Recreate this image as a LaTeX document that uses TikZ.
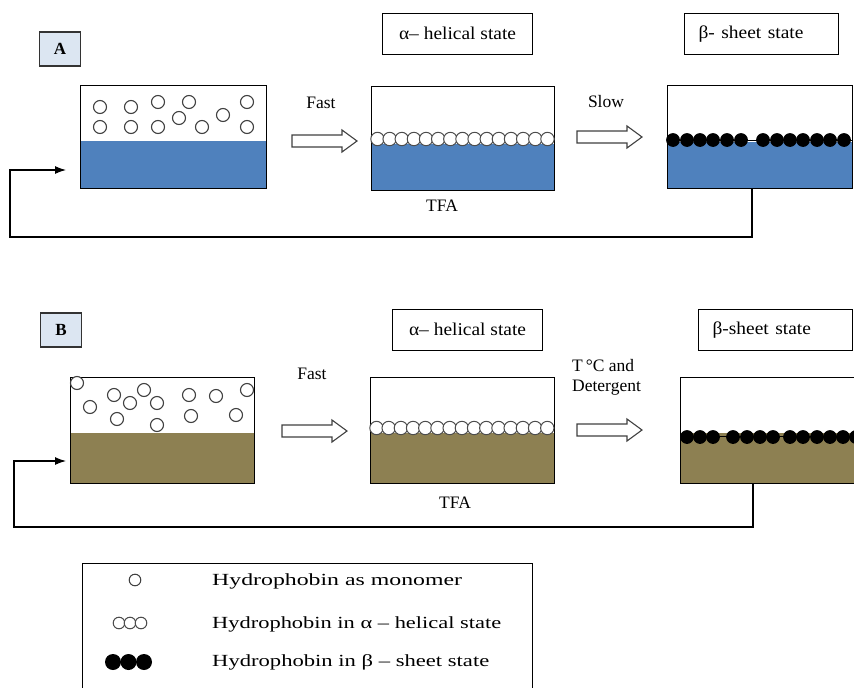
\documentclass[tikz,border=0pt]{standalone}
\usepackage{fontspec}
\usepackage{graphicx}
\setmainfont{Liberation Serif}
\usetikzlibrary{arrows.meta}
\definecolor{waterblue}{HTML}{4F81BD}
\definecolor{tfaolive}{RGB}{141,128,82}
\definecolor{lblfill}{HTML}{DCE6F2}
\definecolor{edgegray}{HTML}{333333}
\tikzset{
  vessel/.style={draw=black, line width=1.2pt, anchor=north west, inner sep=0pt},
  tagbox/.style={draw=edgegray, fill=lblfill, line width=1.3pt, minimum width=41pt, minimum height=34pt, inner sep=0pt, font=\fontsize{17}{20}\selectfont\bfseries},
  statebox/.style={draw=black, line width=1.1pt, anchor=north west, minimum height=41pt, inner sep=0pt, font=\fontsize{18}{21}\selectfont},
  lbl/.style={inner sep=0pt, font=\fontsize{17.5}{21}\selectfont},
  legtext/.style={anchor=west, inner sep=0pt, font=\fontsize{17}{20}\selectfont},
  mono/.style={draw=black!75, line width=1.1pt, fill=white},
  helix/.style={draw=black!70, line width=1pt, fill=white},
  sheet/.style={fill=black},
  fb/.style={draw=black, line width=1.1pt, -{Latex[length=11pt,width=8pt]}},
  hollow/.pic={\draw[line width=1.1pt, draw=black!75, fill=white]
     (0,-6) -- (50,-6) -- (50,-11) -- (65,0) -- (50,11) -- (50,6) -- (0,6) -- cycle;}
}
\begin{document}
\begin{tikzpicture}[x=1pt,y=-1pt]
\useasboundingbox (0,0) rectangle (854,688);

% ================= Panel A =================
\node[tagbox] (tagA) at (60,49) {A};
\node[statebox, minimum width=150pt] (hA) at (382,13) {\raisebox{2pt}{\scalebox{1.08}[1]{α– helical state}}};
\node[statebox, minimum width=154pt, text width=126pt, inner xsep=14pt, align=left] (sA) at (684,13) {\raisebox{2pt}{\scalebox{1.08}[1]{β- sheet state}}};

% vessel 1
\fill[waterblue] (80,141) rectangle (266,188);
\node[vessel, minimum width=186pt, minimum height=103pt] (a1) at (80,85) {};
\foreach \x/\y in {100/107,131/107,158/102,189/102,247/102,100/127,131/127,158/127,179/118,202/127,223/115,247/127}
  \draw[mono] (\x,\y) circle (6.5);

% vessel 2
\fill[waterblue] (371,144) rectangle (554,190);
\node[vessel, minimum width=183pt, minimum height=104pt] (a2) at (371,86) {};
\foreach \i in {0,...,14}
  \draw[helix] ({377.5+\i*12.14},139) circle (6.7);

% vessel 3
\fill[waterblue] (667,142) rectangle (852,188);
\draw[line width=1pt] (667,140) -- (852,140);
\foreach \x in {673,687,700,713,727,741,763,777,790,803,817,830,844}
  \fill[sheet] (\x,140) circle (6.9);
\node[vessel, minimum width=185pt, minimum height=103pt] (a3) at (667,85) {};

% transitions
\pic at (292,141) {hollow};
\node[lbl] (fastA) at (321,103) {Fast};
\pic at (577,137) {hollow};
\node[lbl] (slowA) at (606,102) {Slow};
\node[lbl] (tfaA) at (442,206) {TFA};

% feedback
\coordinate (inA) at (66,170);
\draw[fb] ([xshift=85pt]a3.south west) |- (10,237) |- (inA);

% ================= Panel B =================
\node[tagbox] (tagB) at (61,330) {B};
\node[statebox, minimum width=150pt] (hB) at (392,309) {\raisebox{2pt}{\scalebox{1.08}[1]{α– helical state}}};
\node[statebox, minimum width=154pt, text width=126pt, inner xsep=14pt, align=left] (sB) at (698,309) {\raisebox{2pt}{\scalebox{1.08}[1]{β-sheet state}}};

% vessel 1
\fill[tfaolive] (70,433) rectangle (254,483);
\node[vessel, minimum width=184pt, minimum height=106pt] (b1) at (70,377) {};
\foreach \x/\y in {77/383,90/407,114/395,130/403,144/390,157/403,117/419,157/425,189/395,216/396,247/390,191/416,236/415}
  \draw[mono] (\x,\y) circle (6.5);

% vessel 2
\fill[tfaolive] (370,433) rectangle (554,483);
\node[vessel, minimum width=184pt, minimum height=106pt] (b2) at (370,377) {};
\foreach \i in {0,...,14}
  \draw[helix] ({376.5+\i*12.2},428) circle (6.7);

% vessel 3
\fill[tfaolive] (680,433) rectangle (880,483);
\draw[line width=1pt] (680,436) -- (880,436);
\foreach \x in {687,700,713,733,747,760,773,790,803,817,830,843,856}
  \fill[sheet] (\x,437) circle (6.9);
\node[vessel, minimum width=200pt, minimum height=106pt] (b3) at (680,377) {};

% transitions
\pic at (282,431) {hollow};
\node[lbl] (fastB) at (312,374) {Fast};
\pic at (577,430) {hollow};
\node[lbl, anchor=west, align=left] (tcB) at (572,377) {T\,°C and\\[-1pt]Detergent};
\node[lbl] (tfaB) at (455,503) {TFA};

% feedback
\coordinate (inB) at (66,461);
\draw[fb] ([xshift=73pt]b3.south west) |- (14,527) |- (inB);

% ================= Legend =================
\node[draw=black, line width=1.1pt, anchor=north west, minimum width=450pt, minimum height=140pt, inner sep=0pt] (leg) at (82,563) {};
\draw[mono, line width=1pt] (135,580) circle (5.8);
\foreach \x in {119,130,141}
  \draw[helix] (\x,623) circle (5.8);
\foreach \x in {113,128.5,144}
  \fill[sheet] (\x,662) circle (8);
\node[legtext] (l1) at (212,581) {\scalebox{1.4}[1]{Hydrophobin as monomer}};
\node[legtext] (l2) at (212,624) {\scalebox{1.32}[1]{Hydrophobin in α – helical state}};
\node[legtext] (l3) at (212,662) {\scalebox{1.33}[1]{Hydrophobin in β – sheet state}};
\end{tikzpicture}
\end{document}
